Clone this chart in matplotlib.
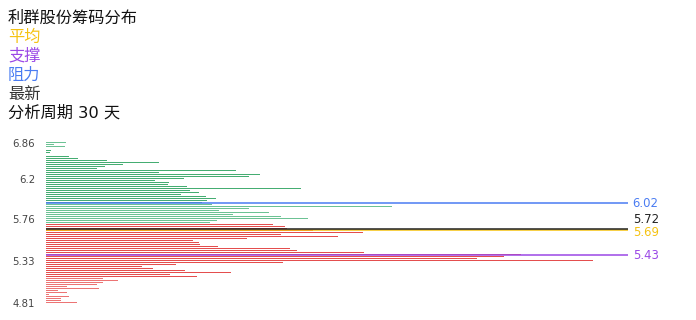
import numpy as np
import matplotlib
matplotlib.use("Agg")
from matplotlib import pyplot as plt

plt.rcParams['font.family'] = ['Noto Sans CJK SC', 'DejaVu Sans']

# chip volume per price row, top (6.86) to bottom (4.81)
chips = [20, 8, 19, 0, 5, 4, 0, 23, 32, 61,
         113, 77, 59, 51, 190, 113, 214, 203, 138, 109,
         123, 122, 141, 255, 144, 153, 135, 160, 170, 161,
         156, 166, 346, 203, 173, 223, 187, 235, 262, 171,
         164, 227, 239, 241, 267, 317, 235, 292, 201, 147,
         153, 154, 172, 244, 251, 318, 475, 458, 431, 547,
         237, 130, 96, 107, 139, 185, 124, 151, 57, 72,
         57, 51, 21, 53, 12, 21, 3, 23, 15, 15,
         31]
tick_rows = [0, 18, 38, 59, 80]
tick_labels = ['6.86', '6.2', '5.76', '5.33', '4.81']
first_red_row = 41

mark_names = ['阻力', '最新', '平均', '支撑']
mark_values = [6.02, 5.72, 5.69, 5.43]

title = '利群股份筹码分布'
period_days = 30

colors = {'阻力': '#4a7cf2', '最新': '#222222', '平均': '#f5c211', '支撑': '#9b48e6'}

fig = plt.figure(figsize=(6.96, 3.2), dpi=100)
ax = fig.add_axes([46 / 696, 1 - 303.6 / 320, 582 / 696, 162 / 320])

rows = np.arange(len(chips))
bar_colors = []
for r in rows:
    if r < first_red_row:
        bar_colors.append('#45ad72' if 4 <= r <= 30 else '#6cc294')
    else:
        bar_colors.append('#e44e4e' if r < 68 else '#ec7474')
ax.barh(rows, chips, height=0.88, color=bar_colors, linewidth=0)

ax.set_xlim(0, 582)
ax.set_ylim(len(chips) - 0.5, -0.5)
ax.set_yticks(tick_rows)
ax.set_yticklabels(tick_labels, fontsize=7.3, color='#444444', family='DejaVu Sans')
ax.tick_params(axis='y', length=0, pad=8)
ax.set_xticks([])
for s in ax.spines.values():
    s.set_visible(False)

# mark lines sit at their category rows
mark_rows = [30.3, 43.2, 43.65, 56.4]
label_shift = [0, -4.6, 1.2, 0]
order = [0, 2, 1, 3]
for i in order:
    name = mark_names[i]
    ax.axhline(mark_rows[i], color=colors[name], lw=1.1, zorder=3)
    ax.text(1.008, mark_rows[i] + label_shift[i], f'{mark_values[i]:.2f}',
            transform=ax.get_yaxis_transform(), color=colors[name],
            fontsize=8.4, va='center', ha='left', family='DejaVu Sans',
            clip_on=False)

lines = [(title, '#111111'), ('平均', colors['平均']), ('支撑', colors['支撑']),
         ('阻力', colors['阻力']), ('最新', '#333333'),
         (f'分析周期 {period_days} 天', '#111111')]
for j, (txt, c) in enumerate(lines):
    fig.text(8 / 696, 1 - (18 + 19 * j) / 320, txt, color=c, fontsize=11.7,
             va='center', ha='left', family=['DejaVu Sans', 'Noto Sans CJK SC'])

fig.savefig('out.png', dpi=100)
